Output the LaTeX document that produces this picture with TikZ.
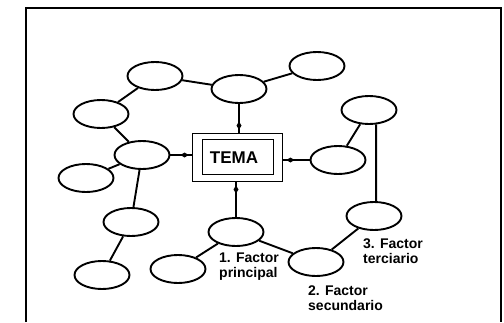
\documentclass[tikz,border=0pt]{standalone}
\usepackage{fontspec}
\setmainfont{Liberation Sans}
\usetikzlibrary{shapes.geometric,arrows.meta,decorations.markings}
\begin{document}
\begin{tikzpicture}[x=1pt,y=-1pt,
  bubble/.style={draw, ellipse, line width=1.9pt, minimum width=55pt, minimum height=28pt, inner sep=0pt},
  link/.style={line width=1.9pt},
  tolink/.style={link, postaction={decorate},
    decoration={markings, mark=at position -3pt with {\arrow{Diamond[length=8pt,width=5pt]}}}},
  caption/.style={font=\bfseries\fontsize{14}{15}\selectfont, align=left, anchor=north west, inner sep=0pt},
  boxline/.style={draw, rectangle, line width=1.9pt, inner sep=0pt}]
\useasboundingbox (0,0) rectangle (504,322);

% open frame
\draw[line width=1.9pt] (26,322) -- (26,8) -- (501,8) -- (501,322);

% central topic box
\node[boxline, minimum width=90pt, minimum height=48pt] (tema) at (237.5,157.5) {};
\node[boxline, minimum width=71pt, minimum height=35pt] (temain) at (238,157) {};
\node[font=\bfseries\fontsize{17}{18}\selectfont, inner sep=0pt] (temalabel) at (234,158) {TEMA};

% bubbles
\node[bubble] (e1)  at (155,76)  {};
\node[bubble] (e2)  at (239,89)  {};
\node[bubble] (e3)  at (317,66)  {};
\node[bubble] (e4)  at (101,114) {};
\node[bubble] (e5)  at (369,110) {};
\node[bubble] (e6)  at (142,155) {};
\node[bubble] (e7)  at (338,160) {};
\node[bubble] (e8)  at (86,178)  {};
\node[bubble] (e9)  at (131,222) {};
\node[bubble] (e10) at (102,275) {};
\node[bubble] (e11) at (236,232) {};
\node[bubble] (e12) at (178,269) {};
\node[bubble] (e13) at (316,262) {};
\node[bubble] (e14) at (374,216) {};

% plain links
\draw[link] (e1) -- (e2);
\draw[link] (e2) -- (e3);
\draw[link] (e1) -- (e4);
\draw[link] (e4) -- (e6);
\draw[link] (e6) -- (e8);
\draw[link] (e6) -- (e9);
\draw[link] (e9) -- (e10);
\draw[link] (e11) -- (e12);
\draw[link] (e11) -- (e13);
\draw[link] (e13) -- (e14);
\draw[link] (e5) -- (e7);
\draw[link] (e5.-64) -- (e14.82);

% links into the topic box
\draw[tolink] (e2.south) -- (e2.south |- tema.north);
\draw[tolink] (e11.north) -- (e11.north |- tema.south);
\draw[tolink] (e6.east) -- (e6.east -| tema.west);
\draw[tolink] (e7.west) -- (e7.west -| tema.east);

% captions
\node[caption] (lab1) at (219,253) {1. Factor\\principal};
\node[caption] (lab2) at (308,286) {2. Factor\\secundario};
\node[caption] (lab3) at (363,239) {3. Factor\\terciario};
\end{tikzpicture}
\end{document}
